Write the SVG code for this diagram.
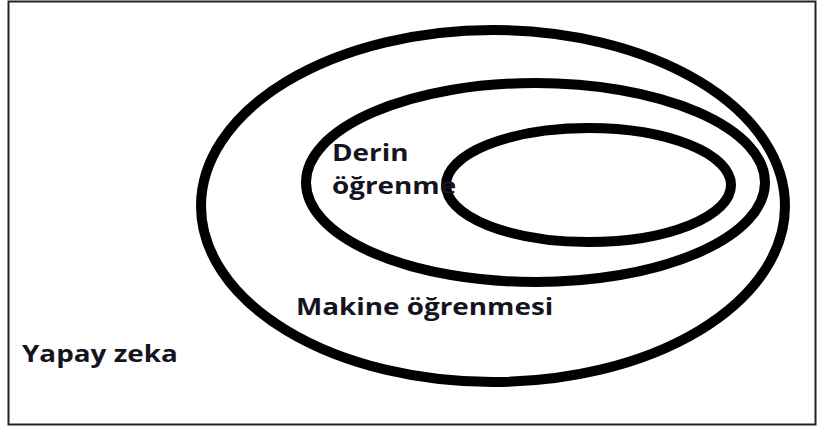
<svg xmlns="http://www.w3.org/2000/svg" width="818" height="428" viewBox="0 0 818 428">
  <style>
    .ring { fill: none; stroke: #000; stroke-width: 10; }
    .label { font-family: "Open Sans", "Noto Sans", "DejaVu Sans", sans-serif; font-weight: 700; font-size: 24px; fill: #14141f; }
  </style>
  <rect x="0" y="0" width="818" height="428" fill="#fff"/>
  <!-- frame -->
  <rect x="8.5" y="1.5" width="807" height="423" fill="none" stroke="#222" stroke-width="2"/>

  <!-- labels are widened horizontally to get a broad, low lettering -->
  <g id="yapay-zeka">
    <ellipse class="ring" cx="493" cy="206" rx="292" ry="176"/>
    <text class="label" transform="translate(22 362) scale(1.16 1)">Yapay zeka</text>
  </g>

  <g id="makine-ogrenmesi">
    <ellipse class="ring" cx="535.5" cy="182.5" rx="229.5" ry="99.5"/>
    <text class="label" transform="translate(296 315) scale(1.16 1)">Makine öğrenmesi</text>
  </g>

  <g id="derin-ogrenme">
    <ellipse class="ring" cx="588.5" cy="185" rx="142.5" ry="57"/>
    <text class="label" transform="translate(332 161) scale(1.16 1)">Derin</text>
    <text class="label" transform="translate(332 194) scale(1.16 1)">öğrenme</text>
  </g>

  <g id="connectors"></g>
</svg>
